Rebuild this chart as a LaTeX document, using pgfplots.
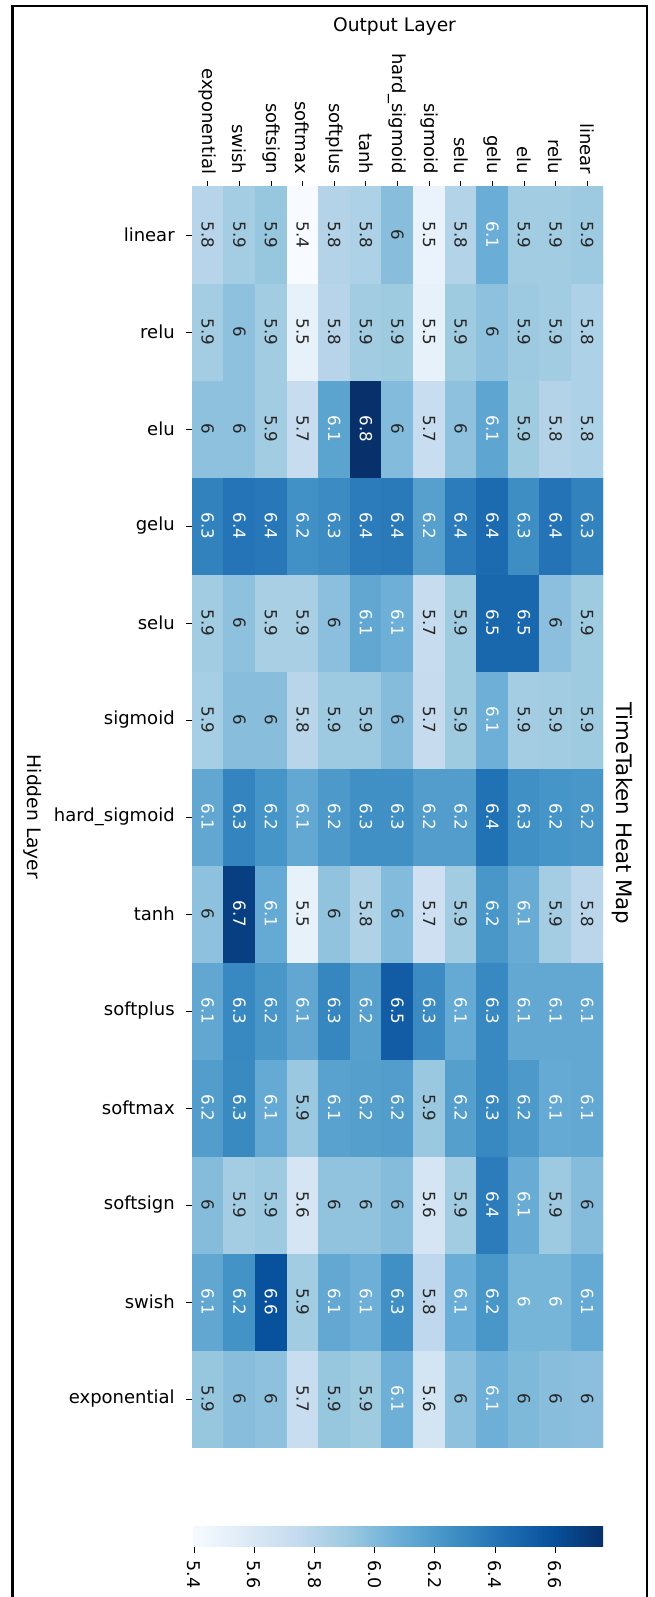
\documentclass[border=0pt]{standalone}
\usepackage{fontspec}
\setmainfont{DejaVu Sans}
\usepackage{pgfplots}
\pgfplotsset{compat=1.18}
\usepackage{pgfplotstable}
\pgfkeys{/pgf/number format/assume math mode=true}
\definecolor{txtd}{RGB}{38,38,38}
\definecolor{txtw}{RGB}{255,255,255}
% x: output layer (0=exponential ... 12=linear); y: hidden layer (0=exponential ... 12=linear)
% w = 1: value written in white
\pgfplotstableread{
x y v lab w
0 0 5.93 5.9 0
1 0 5.98 6 0
2 0 5.96 6 0
3 0 5.71 5.7 0
4 0 5.93 5.9 0
5 0 5.90 5.9 0
6 0 6.07 6.1 1
7 0 5.64 5.6 0
8 0 5.96 6 0
9 0 6.07 6.1 1
10 0 6.01 6 0
11 0 5.98 6 0
12 0 5.97 6 0
0 1 6.12 6.1 1
1 1 6.24 6.2 1
2 1 6.59 6.6 1
3 1 5.89 5.9 0
4 1 6.11 6.1 1
5 1 6.07 6.1 1
6 1 6.26 6.3 1
7 1 5.76 5.8 0
8 1 6.08 6.1 1
9 1 6.22 6.2 1
10 1 6.04 6 1
11 1 6.04 6 1
12 1 6.10 6.1 1
0 2 5.99 6 0
1 2 5.88 5.9 0
2 2 5.91 5.9 0
3 2 5.63 5.6 0
4 2 5.95 6 0
5 2 5.95 6 0
6 2 5.99 6 0
7 2 5.63 5.6 0
8 2 5.89 5.9 0
9 2 6.36 6.4 1
10 2 6.09 6.1 1
11 2 5.91 5.9 0
12 2 5.99 6 0
0 3 6.18 6.2 1
1 3 6.29 6.3 1
2 3 6.10 6.1 1
3 3 5.92 5.9 0
4 3 6.15 6.1 1
5 3 6.17 6.2 1
6 3 6.18 6.2 1
7 3 5.92 5.9 0
8 3 6.17 6.2 1
9 3 6.30 6.3 1
10 3 6.20 6.2 1
11 3 6.10 6.1 1
12 3 6.11 6.1 1
0 4 6.12 6.1 1
1 4 6.30 6.3 1
2 4 6.22 6.2 1
3 4 6.12 6.1 1
4 4 6.31 6.3 1
5 4 6.16 6.2 1
6 4 6.53 6.5 1
7 4 6.28 6.3 1
8 4 6.10 6.1 1
9 4 6.30 6.3 1
10 4 6.11 6.1 1
11 4 6.11 6.1 1
12 4 6.11 6.1 1
0 5 5.96 6 0
1 5 6.68 6.7 1
2 5 6.10 6.1 1
3 5 5.50 5.5 0
4 5 5.95 6 0
5 5 5.83 5.8 0
6 5 6.00 6 0
7 5 5.68 5.7 0
8 5 5.89 5.9 0
9 5 6.22 6.2 1
10 5 6.09 6.1 1
11 5 5.88 5.9 0
12 5 5.78 5.8 0
0 6 6.12 6.1 1
1 6 6.32 6.3 1
2 6 6.23 6.2 1
3 6 6.11 6.1 1
4 6 6.20 6.2 1
5 6 6.26 6.3 1
6 6 6.26 6.3 1
7 6 6.18 6.2 1
8 6 6.18 6.2 1
9 6 6.42 6.4 1
10 6 6.26 6.3 1
11 6 6.23 6.2 1
12 6 6.22 6.2 1
0 7 5.87 5.9 0
1 7 5.98 6 0
2 7 5.98 6 0
3 7 5.79 5.8 0
4 7 5.91 5.9 0
5 7 5.91 5.9 0
6 7 5.99 6 0
7 7 5.73 5.7 0
8 7 5.90 5.9 0
9 7 6.07 6.1 1
10 7 5.88 5.9 0
11 7 5.89 5.9 0
12 7 5.90 5.9 0
0 8 5.89 5.9 0
1 8 5.96 6 0
2 8 5.86 5.9 0
3 8 5.86 5.9 0
4 8 5.97 6 0
5 8 6.12 6.1 1
6 8 6.07 6.1 1
7 8 5.72 5.7 0
8 8 5.90 5.9 0
9 8 6.47 6.5 1
10 8 6.47 6.5 1
11 8 5.97 6 0
12 8 5.90 5.9 0
0 9 6.33 6.3 1
1 9 6.40 6.4 1
2 9 6.38 6.4 1
3 9 6.25 6.2 1
4 9 6.28 6.3 1
5 9 6.36 6.4 1
6 9 6.37 6.4 1
7 9 6.16 6.2 1
8 9 6.36 6.4 1
9 9 6.45 6.4 1
10 9 6.27 6.3 1
11 9 6.41 6.4 1
12 9 6.33 6.3 1
0 10 5.96 6 0
1 10 5.96 6 0
2 10 5.89 5.9 0
3 10 5.72 5.7 0
4 10 6.14 6.1 1
5 10 6.76 6.8 1
6 10 6.00 6 0
7 10 5.71 5.7 0
8 10 5.96 6 0
9 10 6.13 6.1 1
10 10 5.90 5.9 0
11 10 5.81 5.8 0
12 10 5.84 5.8 0
0 11 5.88 5.9 0
1 11 5.96 6 0
2 11 5.89 5.9 0
3 11 5.50 5.5 0
4 11 5.80 5.8 0
5 11 5.89 5.9 0
6 11 5.90 5.9 0
7 11 5.50 5.5 0
8 11 5.90 5.9 0
9 11 5.96 6 0
10 11 5.91 5.9 0
11 11 5.89 5.9 0
12 11 5.84 5.8 0
0 12 5.80 5.8 0
1 12 5.88 5.9 0
2 12 5.93 5.9 0
3 12 5.39 5.4 0
4 12 5.81 5.8 0
5 12 5.84 5.8 0
6 12 5.98 6 0
7 12 5.48 5.5 0
8 12 5.82 5.8 0
9 12 6.08 6.1 1
10 12 5.89 5.9 0
11 12 5.89 5.9 0
12 12 5.91 5.9 0
}\heat

\begin{document}
\begin{tikzpicture}
\useasboundingbox (0,0) rectangle (393pt,-958.2pt);
\begin{axis}[
  at={(238.5pt,-490.2pt)}, anchor=center,
  scale only axis, width=246.6pt, height=756.6pt,
  xmin=-0.5, xmax=12.5, ymin=-0.5, ymax=12.5,
  enlargelimits=false,
  axis x line*=top, axis y line*=left,
  axis line style={draw=none},
  tick align=outside,
  major tick length=3.6pt,
  tick style={black, line width=0.5pt},
  xtick={0,...,12}, ytick={0,...,12},
  minor tick num=0,
  xticklabels={exponential,swish,softsign,softmax,softplus,tanh,hard\_sigmoid,sigmoid,selu,gelu,elu,relu,linear},
  yticklabels={exponential,swish,softsign,softmax,softplus,tanh,hard\_sigmoid,sigmoid,selu,gelu,elu,relu,linear},
  xticklabel style={rotate=-90, anchor=east, inner sep=0pt, font=\fontsize{10.8}{13}\selectfont},
  yticklabel style={anchor=east, inner sep=0pt, font=\fontsize{10.8}{13}\selectfont},
  xticklabel shift=3.6pt, yticklabel shift=6.6pt,
  colormap={blues}{rgb255=(247,251,255) rgb255=(222,235,247) rgb255=(198,219,239) rgb255=(158,202,225) rgb255=(107,174,214) rgb255=(66,146,198) rgb255=(33,113,181) rgb255=(8,81,156) rgb255=(8,48,107)},
  point meta min=5.393, point meta max=6.759,
  colorbar horizontal,
  colorbar style={
    at={(parent axis.south)}, anchor=north, yshift=-39pt,
    scale only axis, width=246.6pt, height=12pt,
    xtick={5.4,5.6,5.8,6.0,6.2,6.4,6.6},
    axis line style={draw=none},
    tick align=outside, major tick length=3.6pt,
    tick style={black, line width=0.5pt},
    xtick pos=left, xticklabel pos=left,
    xticklabel style={rotate=-90, anchor=west, inner sep=0pt, font=\fontsize{10.5}{12}\selectfont,
      /pgf/number format/.cd, fixed, fixed zerofill, precision=1},
    xticklabel shift=4.5pt,
    ytick=\empty,
  },
]
\addplot[matrix plot*, mesh/cols=13, point meta=explicit] table[x=x, y=y, meta=v] {\heat};
\addplot[only marks, mark=*, mark size=0pt, mark options={draw=none, fill=none},
  unbounded coords=discard,
  restrict expr to domain={\thisrow{w}}{-0.5:0.5},
  point meta=explicit symbolic,
  nodes near coords,
  every node near coord/.append style={rotate=-90, anchor=center, text=txtd, inner sep=0pt, font=\fontsize{10}{12}\selectfont},
] table[x=x, y=y, meta=lab] {\heat};
\addplot[only marks, mark=*, mark size=0pt, mark options={draw=none, fill=none},
  unbounded coords=discard,
  restrict expr to domain={\thisrow{w}}{0.5:1.5},
  point meta=explicit symbolic,
  nodes near coords,
  every node near coord/.append style={rotate=-90, anchor=center, text=txtw, inner sep=0pt, font=\fontsize{10}{12}\selectfont},
] table[x=x, y=y, meta=lab] {\heat};
\end{axis}
\node[font=\fontsize{11.2}{13}\selectfont, text=black] at (236.7pt,-16.2pt) {Output Layer};
\node[rotate=-90, font=\fontsize{11.2}{13}\selectfont, text=black] at (19.8pt,-490.2pt) {Hidden Layer};
\node[rotate=-90, font=\fontsize{12.8}{15}\selectfont, text=black] at (373.2pt,-488pt) {TimeTaken Heat Map};
\draw[line width=1.5pt] (7.5pt,-970pt) -- (7.5pt,-3.6pt) -- (388.2pt,-3.6pt) -- (388.2pt,-970pt);
\end{tikzpicture}
\end{document}
